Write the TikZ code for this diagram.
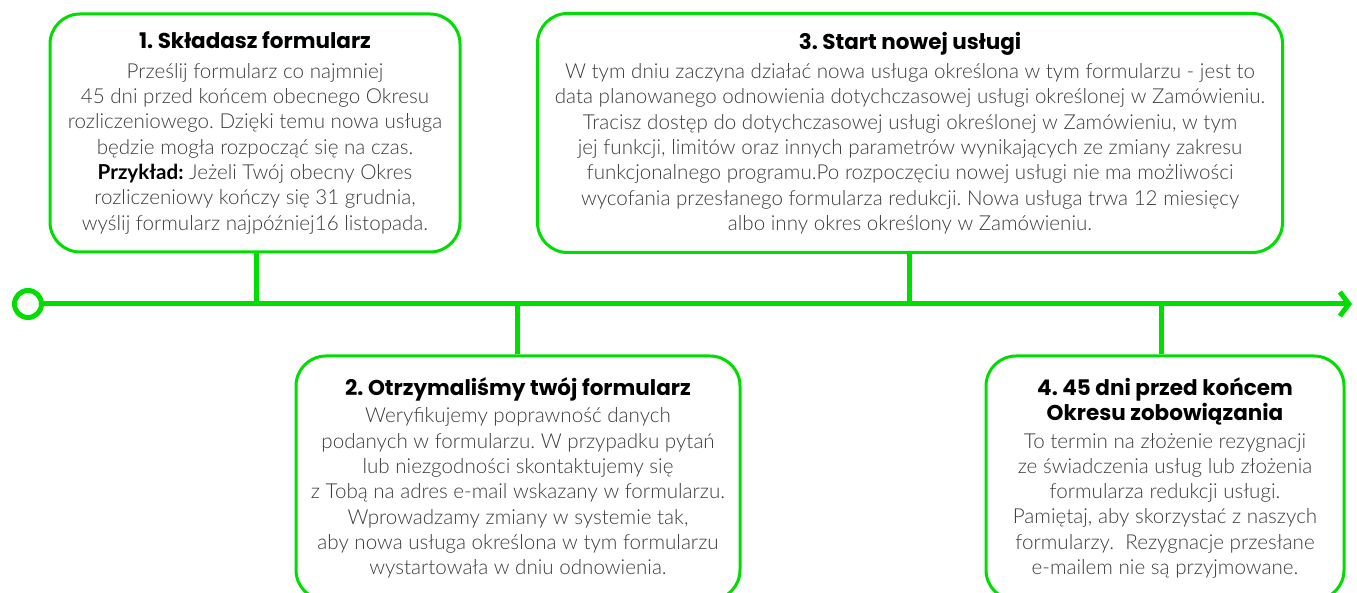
\documentclass[tikz,border=0pt]{standalone}
\usepackage{fontspec}
\setmainfont{Lato Light}[BoldFont=Lato Bold]
\newfontfamily\headfont{Poppins}
\usetikzlibrary{arrows.meta,positioning}
\definecolor{linegreen}{RGB}{0,221,0}
\definecolor{textgray}{RGB}{60,60,60}
\newcommand{\boxtitle}[1]{{\headfont\bfseries\color{black}\fontsize{21.5}{27}\selectfont #1}}
\frenchspacing

\begin{document}
\begin{tikzpicture}[x=1pt,y=-1pt]

        \tikzstyle{box}=[draw=linegreen,line width=3pt,rounded corners=30pt,align=center,inner sep=0pt,text=textgray,font=\fontsize{20.6}{25.3}\selectfont]
        \tikzstyle{axis}=[draw=linegreen,line width=5pt]

        \useasboundingbox (0,0) rectangle (1357,593);

        \node[box,minimum width=410pt,minimum height=238pt] (A) at (255,133) {\boxtitle{1. Składasz formularz}\\[4pt]
          Prześlij formularz co najmniej\\
          45 dni przed końcem obecnego Okresu\\
          rozliczeniowego. Dzięki temu nowa usługa\\
          będzie mogła rozpocząć się na czas.\\
          {\bfseries\color{black}Przykład:} Jeżeli Twój obecny Okres\\
          rozliczeniowy kończy się 31 grudnia,\\
          wyślij formularz najpóźniej16 listopada.};
        \node[box,minimum width=444pt,minimum height=244pt] (B) at (518,478) {\boxtitle{2. Otrzymaliśmy twój formularz}\\[2pt]
          Weryfikujemy poprawność danych\\
          podanych w formularzu. W przypadku pytań\\
          lub niezgodności skontaktujemy się\\
          z Tobą na adres e-mail wskazany w formularzu.\\
          Wprowadzamy zmiany w systemie tak,\\
          aby nowa usługa określona w tym formularzu\\
          wystartowała w dniu odnowienia.};
        \node[box,minimum width=745pt,minimum height=239pt] (C) at (910,133) {\boxtitle{3. Start nowej usługi}\\[4pt]
          W tym dniu zaczyna działać nowa usługa określona w tym formularzu - jest to\\
          data planowanego odnowienia dotychczasowej usługi określonej w Zamówieniu.\\
          Tracisz dostęp do dotychczasowej usługi określonej w Zamówieniu, w tym\\
          jej funkcji, limitów oraz innych parametrów wynikających ze zmiany zakresu\\
          funkcjonalnego programu.Po rozpoczęciu nowej usługi nie ma możliwości\\
          wycofania przesłanego formularza redukcji. Nowa usługa trwa 12 miesięcy\\
          albo inny okres określony w Zamówieniu.};
        \node[box,minimum width=358pt,minimum height=244pt] (D) at (1165,478) {\boxtitle{4. 45 dni przed końcem}\\
          \boxtitle{Okresu zobowiązania}\\[2pt]
          To termin na złożenie rezygnacji\\
          ze świadczenia usług lub złożenia\\
          formularza redukcji usługi.\\
          Pamiętaj, aby skorzystać z naszych\\
          formularzy.\ \ Rezygnacje przesłane\\
          e-mailem nie są przyjmowane.};

        \node[circle,draw=linegreen,line width=5pt,minimum size=27pt,inner sep=0pt] (S) at (28,304) {};
        \coordinate (E) at (1352,304);

        \coordinate (A1) at (256,304);
        \coordinate (B1) at (517,304);
        \coordinate (C1) at (909,304);
        \coordinate (D1) at (1161,304);

        \draw [axis,-{Straight Barb[length=9pt,width=24pt]}] (S) -- (E);

        \path [axis] (A.south -| A1) edge (A1);
        \path [axis] (B.north -| B1) edge (B1);
        \path [axis] (C.south -| C1) edge (C1);
        \path [axis] (D.north -| D1) edge (D1);
      \end{tikzpicture}
\end{document}
